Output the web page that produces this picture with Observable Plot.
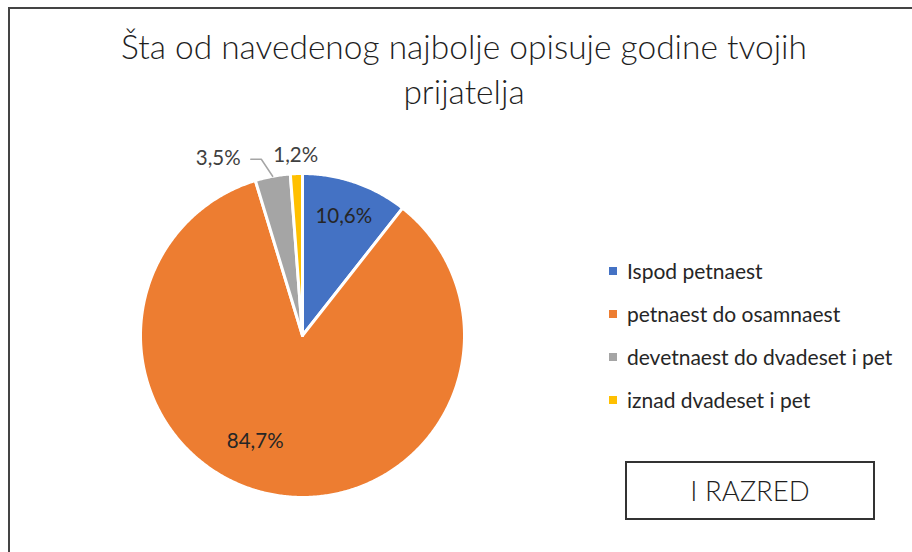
<!DOCTYPE html>
<html><head><meta charset="utf-8">
<script src="https://cdn.jsdelivr.net/npm/d3@7"></script>
<script src="https://cdn.jsdelivr.net/npm/@observablehq/plot@0.6"></script>
<style>
body{margin:0;background:#fff;font-family:Lato,"Open Sans",sans-serif;color:#404040;}
#page{position:relative;width:912px;height:552px;overflow:hidden;background:#fff;}
#frame{position:absolute;left:8px;top:7px;width:960px;height:620px;border:2px solid #444;box-sizing:border-box;}
#title{position:absolute;left:8px;width:912px;top:24px;text-align:center;font-size:33.5px;font-weight:300;line-height:45px;color:#1f1f1f;}
#chart{position:absolute;left:102px;top:135px;}
#legend{position:absolute;left:609px;top:249px;font-size:21px;color:#262626;}
.item{height:43px;display:flex;align-items:center;white-space:nowrap;}
.sw{width:8px;height:8px;margin-right:10px;}
#badge{position:absolute;left:625px;top:461px;width:250px;height:59px;border:2px solid #333;box-sizing:border-box;display:flex;align-items:center;justify-content:center;font-size:27.5px;font-weight:300;color:#1f1f1f;}
</style></head>
<body>
<div id="page">
  <div id="frame"></div>
  <div id="title">Šta od navedenog najbolje opisuje godine tvojih<br>prijatelja</div>
  <div id="chart"></div>
  <div id="legend"></div>
  <div id="badge">I RAZRED</div>
</div>
<script>
const categories = ["Ispod petnaest", "petnaest do osamnaest", "devetnaest do dvadeset i pet", "iznad dvadeset i pet"];
const values = [10.6, 84.7, 3.5, 1.2];
const valueLabels = ["10,6%", "84,7%", "3,5%", "1,2%"];
const colors = ["#4472C4", "#ED7D31", "#A5A5A5", "#FFC000"];
const boxLabel = "I RAZRED";

const arcs = d3.pie().sort(null).value(d => d)(values);
const pt = (a, r) => ({x: r * Math.sin(a), y: r * Math.cos(a)});

// slice polygons
const polys = [];
arcs.forEach((a, i) => {
  const n = Math.max(8, Math.ceil((a.endAngle - a.startAngle) * 120));
  polys.push({cat: categories[i], ...pt(0, 0)});
  for (let k = 0; k <= n; k++) {
    const t = a.startAngle + (a.endAngle - a.startAngle) * k / n;
    polys.push({cat: categories[i], ...pt(t, 1)});
  }
  polys.push({cat: categories[i], ...pt(0, 0)});
});

const mid = a => (a.startAngle + a.endAngle) / 2;
const inside = [0, 1].map(i => ({label: valueLabels[i], ...pt(mid(arcs[i]), 0.78)}));
const outside = [2, 3].map(i => ({label: valueLabels[i], ...pt(mid(arcs[i]), 1.115)}));
const g = pt(mid(arcs[2]), 1.0);
const leader = [{x: g.x, y: g.y}, {x: g.x - 0.07, y: 1.088}, {x: g.x - 0.135, y: 1.088}];

const S = 400, R = S / 2 / 162;
const chart = Plot.plot({
  width: S, height: S, margin: 0,
  x: {domain: [-R, R], axis: null},
  y: {domain: [-R, R], axis: null},
  color: {domain: categories, range: colors},
  style: {fontFamily: "Lato, 'Open Sans', sans-serif", background: "transparent"},
  marks: [
    Plot.line(polys, {x: "x", y: "y", z: "cat", fill: "cat", stroke: "white", strokeWidth: 3, strokeLinejoin: "round", curve: "linear"}),
    Plot.line(leader, {x: "x", y: "y", stroke: "#A5A5A5", strokeWidth: 1.5}),
    Plot.text(inside.slice(0, 1), {x: "x", y: "y", text: "label", fontSize: 20.5, fill: "#262626"}),
    Plot.text(inside.slice(1), {x: "x", y: "y", text: "label", fontSize: 20.5, fill: "#262626", dx: -24, dy: -18}),
    Plot.text(outside.slice(0, 1), {x: "x", y: "y", text: "label", fontSize: 20.5, fill: "#404040", dx: -51}),
    Plot.text(outside.slice(1), {x: "x", y: "y", text: "label", fontSize: 20.5, fill: "#404040"})
  ]
});
document.getElementById("chart").appendChild(chart);

const leg = document.getElementById("legend");
categories.forEach((c, i) => {
  const d = document.createElement("div");
  d.className = "item";
  d.innerHTML = `<span class="sw" style="background:${colors[i]}"></span><span>${c}</span>`;
  leg.appendChild(d);
});
document.getElementById("badge").textContent = boxLabel;
</script>
</body></html>
